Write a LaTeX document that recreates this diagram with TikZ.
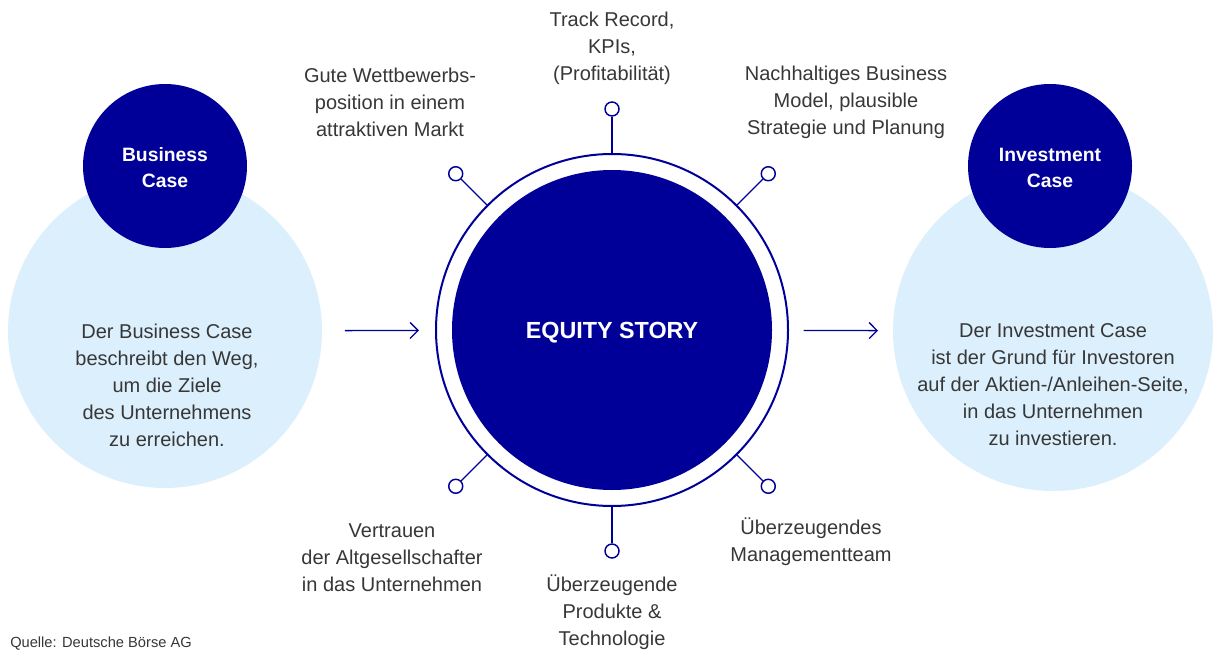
\documentclass[tikz,border=0pt]{standalone}
\usepackage{fontspec}
\setmainfont{Liberation Sans}
\usepackage{tikz}
\usetikzlibrary{positioning,arrows.meta}
\definecolor{dbblue}{RGB}{0,0,153}
\definecolor{dblight}{RGB}{219,239,252}
\definecolor{dbtext}{RGB}{55,55,55}

\begin{document}
\begin{tikzpicture}[x=0.75pt,y=-0.75pt,
  txt/.style={align=center, text=dbtext, font=\fontsize{15}{20.25}\selectfont},
  soft/.style={circle, fill=dblight, inner sep=0pt},
  dark/.style={circle, fill=dbblue, minimum size=123pt, inner sep=0pt},
  title/.style={text=white, align=center, font=\bfseries\fontsize{14.5}{19.5}\selectfont},
  knob/.style={circle, draw=dbblue, line width=1.1pt, fill=white, minimum size=10.5pt, inner sep=0pt},
  flow/.style={draw=dbblue, line width=1pt, -{Straight Barb[length=6pt, width=12pt]}}]
\useasboundingbox (0,0) rectangle (1216,652);

% business case / investment case
\node[soft, minimum size=235.5pt] (bizsoft) at (165,331) {};
\node[soft, minimum size=240pt] (invsoft) at (1053,331) {};
\node[dark] (bizcase) at (165,166) {};
\node[dark] (invcase) at (1050,166) {};
\node[title] (biztitle) at ([yshift=-1.5pt]bizcase.center) {Business\\Case};
\node[title] (invtitle) at ([yshift=-1.5pt]invcase.center) {Investment\\Case};
\node[txt] (biztext) at (167,385) {Der Business Case\\beschreibt den Weg,\\um die Ziele\\des Unternehmens\\zu erreichen.};
\node[txt] (invtext) at (1053,385) {Der Investment Case\\ist der Grund f\"ur Investoren\\auf der Aktien-/Anleihen-Seite,\\in das Unternehmen\\zu investieren.};

% equity story
\node[circle, draw=dbblue, line width=1.5pt, minimum size=264pt] (ring) at (612,330) {};
\node[circle, fill=dbblue, minimum size=240pt] (story) at (612,330) {};
\node[title, font=\bfseries\fontsize{17.5}{20}\selectfont] (storytitle) at ([yshift=-2.2pt]story.center) {EQUITY STORY};

\foreach \a/\n in {-90/1, -135/2, -45/3, 135/4, 45/5, 90/6}{
  \node[knob] (k\n) at ([shift={(\a:221)}]story) {};
  \draw[dbblue, line width=1pt] (ring) -- (k\n);
}

\draw[flow, shorten <=17pt, shorten >=12pt] (bizsoft) -- (ring);
\draw[flow, shorten <=11pt, shorten >=11pt] (ring) -- (invsoft);

% factors
\node[txt] (track) at (612,48) {Track Record,\\KPIs,\\(Profitabilit\"at)};
\node[txt] (market) at (390,102) {Gute Wettbewerbs-\\position in einem\\attraktiven Markt};
\node[txt] (model) at (846,102) {Nachhaltiges Business\\Model, plausible\\Strategie und Planung};
\node[txt] (trust) at (392,558) {Vertrauen\\der Altgesellschafter\\in das Unternehmen};
\node[txt] (product) at (612,612) {\"Uberzeugende\\Produkte \&\\Technologie};
\node[txt] (team) at (811,542) {\"Uberzeugendes\\Managementteam};

\node[anchor=base west, inner sep=0pt, text=dbtext, font=\fontsize{11}{13}\selectfont] (source) at (10,647) {Quelle: Deutsche B\"orse AG};
\end{tikzpicture}
\end{document}
